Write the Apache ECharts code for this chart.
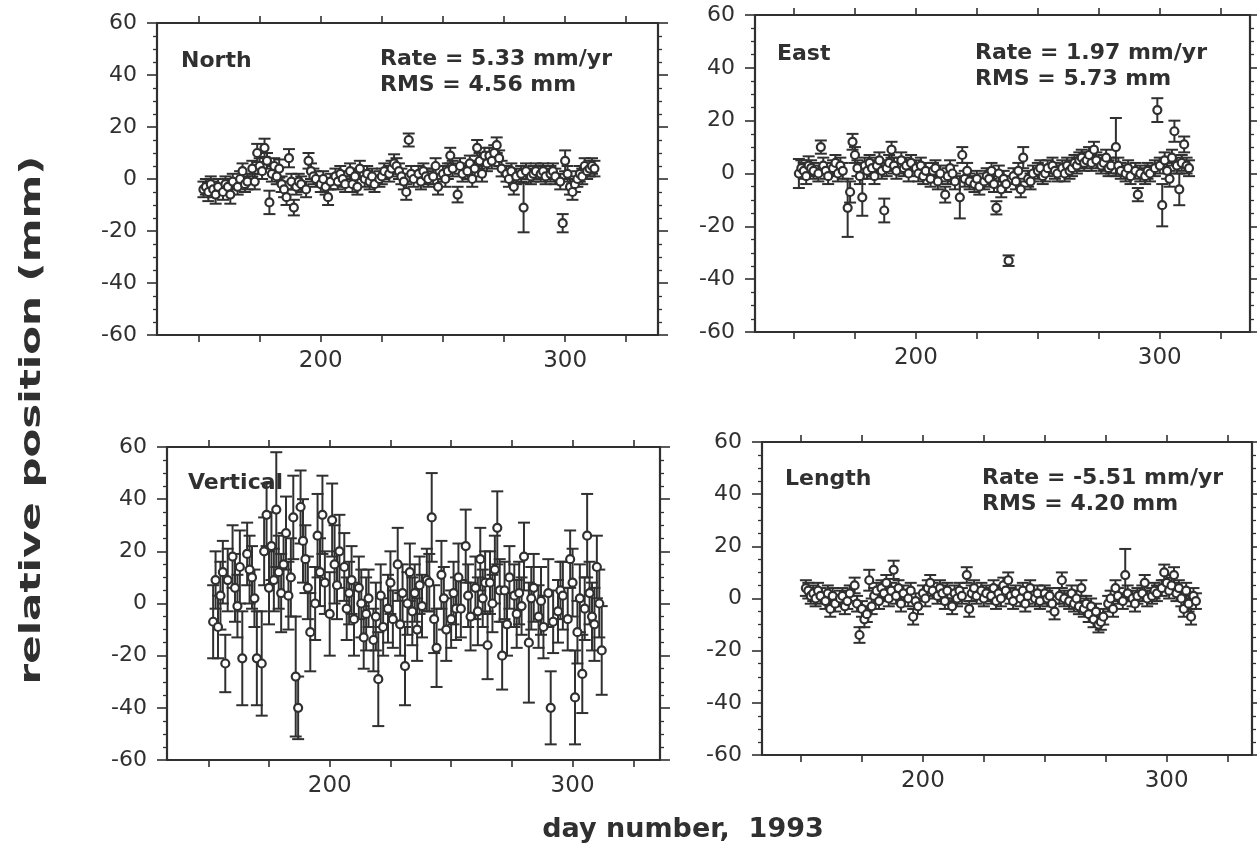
<!DOCTYPE html>
<html><head><meta charset="utf-8">
<script src="https://cdn.jsdelivr.net/npm/echarts@6/dist/echarts.min.js"></script>
<style>html,body{margin:0;padding:0;background:#fff}#c{width:1257px;height:856px}</style>
</head><body><div id="c"></div>
<script>
// ---------------- data ----------------
const days = [152,153,154,155,156,157,158,
160,161,162,163,164,
166,167,168,169,170,
172,173,174,175,176,177,178,179,180,181,182,183,184,185,186,187,188,189,190,191,192,
194,195,196,197,198,
200,201,202,203,204,
206,207,208,209,210,
212,213,214,215,216,
218,219,220,221,222,
224,225,226,
228,229,230,231,232,233,234,235,236,237,238,
240,241,242,243,244,
246,247,248,
250,251,252,253,254,
256,257,258,
260,261,262,263,264,265,266,267,268,269,270,271,272,273,274,
276,277,278,279,280,
282,283,284,
286,287,288,
290,291,292,
294,295,296,
298,299,300,301,302,303,304,305,306,307,308,309,310,311,312];

const northVals = [-4,-3,-5,-2,-4,-6,-3,
-5,-2,-3,-6,-1,
-3,0,3,-2,-1,
4,-1,10,5,3,12,7,-9,2,5,1,4,-2,-4,-7,8,-1,-11,-3,-1,-2,
-4,7,3,1,0,
-2,0,-3,-7,-1,
1,-1,2,0,-2,
3,-2,1,-3,4,
0,2,-1,1,-2,
0,1,3,
2,4,6,5,3,1,-1,-5,15,2,0,
2,-1,3,1,0,
1,5,-3,
2,0,3,9,4,
-6,5,2,
3,6,0,4,12,7,2,9,6,9,7,10,13,8,4,
2,0,3,-3,1,
2,-11,3,
1,2,3,
2,3,1,
2,3,1,
-1,-17,7,2,-3,-5,-2,0,2,1,5,3,4,5,4];
const northErrs = [3,3,3.5,3,3,3.5,3,
3,3,3,3.5,3,
3,3,3,3,3,
3,3,3.5,3,3,3.5,3,4.5,3,3,3,3.5,3,3,3,3.5,3,3,3,3,3,
3,3,3,3,3,
3,3,3,3,3,
3,3,3,3,3,
3,3,3,3,3,
3,3,3,3,3,
3,3,3,
3,3,3.5,3,3,3,3,3,2.5,3,3,
3,3,3,3,3,
3,3,3,
3,3,3,3,3,
3,3,3,
3,3,3,3,3,3,3,3,3,3,3,3,3,3,3,
3,3,3,3,3,
3,9.5,3,
3,3,3,
3,3,3,
3,3,3,
3,3.5,4,3,3,3,3,3,3,3,3,3,3,3,3];

const eastVals = [0,2,1,-1,3,2,1,
0,10,3,1,-1,
2,4,0,3,1,
-13,-7,12,7,2,-1,-9,3,1,4,2,-1,3,5,1,-14,2,4,9,3,1,
5,2,3,0,4,
2,0,3,-1,1,
-2,1,2,-3,0,
-8,-1,2,0,-3,
-9,7,-2,1,-3,
-4,-2,-5,
-3,-1,-2,1,-4,-13,0,-6,-2,-4,-33,
-1,-3,1,-6,6,
-2,-3,0,
1,2,-1,0,2,
3,1,0,
2,0,3,1,2,4,3,5,6,4,5,7,4,9,5,
3,4,6,2,3,
10,3,1,
0,2,-1,
1,-8,0,
-1,1,0,
2,24,3,-12,5,1,-2,6,16,3,-6,4,11,3,2];
const eastErrs = [5.5,3,3,3,3.5,3,3,
3,2.5,3,3,3,
3,3,3,3,3,
11,4,3,3,3,3,7,3,3,3,3,3,3,3,3,4.5,3,3,3,3,3,
3,3,3,3,3,
3,3,3,3,3,
3,3,3,3,3,
3,3,3,3,3,
8,3,3,3,3,
3,3,3,
3,3,3,3,3,2.5,3,3,3,3,2,
3,3,3,3,4,
3,3,3,
3,3,3,3,3,
3,3,3,
3,3,3,3,3,3,3,3,3,3,3,3,3,3,3,
3,3,3,3,3,
11,3,3,
3,3,3,
3,2.5,3,
3,3,3,
3,4.5,3,8,3,3,3,3,4,3,6,3,3,3,3];

const vertVals = [-7,9,-9,3,12,-23,9,
18,6,-1,14,-21,
19,13,10,2,-21,
-23,20,34,6,22,9,36,12,4,15,27,3,10,33,-28,-40,37,24,17,6,-11,
0,26,12,34,8,
-4,32,15,7,20,
14,-2,4,9,-6,
6,0,-13,-4,2,
-14,-5,-29,3,-9,
-2,8,-6,
15,-8,4,-24,0,12,-3,4,-10,7,-1,
9,8,33,-6,-17,
11,2,-10,
-6,4,-2,10,-2,
22,3,-5,
6,-3,17,2,8,-16,8,0,13,29,5,-20,5,-8,10,
3,-4,4,-1,18,
-15,2,6,
-5,1,-9,
4,-40,-7,
-3,5,3,
-6,17,8,-36,-11,2,-27,-2,26,4,-5,-8,14,0,-18];
const vertErrs = [14,11,12,13,12,11,12,
12,13,12,14,18,
12,13,12,11,18,
20,13,12,14,13,12,22,14,15,12,14,13,15,16,23,12,14,16,13,12,15,
14,16,13,15,12,
16,14,15,13,14,
13,12,12,13,14,
12,13,12,14,11,
12,13,18,12,11,
13,12,11,
14,12,11,15,12,11,13,11,12,11,12,
12,11,17,13,15,
13,12,12,
11,12,12,13,11,
14,12,13,
12,13,12,11,12,13,12,11,13,14,12,13,11,12,12,
12,13,12,11,13,
23,12,13,
12,13,12,
13,14,12,
12,11,13,
12,11,13,18,12,13,15,12,16,12,13,14,12,13,17];

const lengthVals = [4,3,1,2,0,3,1,
-1,2,-4,1,-2,
0,1,-3,-1,2,
5,-2,-14,-4,-8,-6,7,-3,1,3,-1,4,2,6,0,3,11,1,4,-2,2,
0,3,-7,-1,-3,
2,0,4,6,3,
1,4,2,-1,3,
-3,2,0,3,1,
9,-4,2,4,1,
3,0,2,
1,4,-1,2,0,5,3,7,1,-1,2,
0,3,-2,1,4,
0,2,-1,
2,0,1,-2,-5,
1,7,0,
-1,2,-2,0,-3,4,-4,-2,-6,-3,-8,-5,-10,-9,-7,
-2,0,-4,4,1,
-1,9,2,
0,-2,1,
2,6,0,
1,3,2,
4,10,6,3,5,9,2,4,0,-4,3,-2,-7,1,-1];
const lengthErrs = [3,3,3,3,3,3,3,
3,3,3,3,3,
3,3,3,3,3,
3,3,3,3,3,3,4,3,3,3,3,3,3,3,3,3,3.5,3,3,3,3,
3,3,3,3,3,
3,3,3,3,3,
3,3,3,3,3,
3,3,3,3,3,
3,3,3,3,3,
3,3,3,
3,3,3,3,3,3,3,3,3,3,3,
3,3,3,3,3,
3,3,3,
3,3,3,3,3,
3,3,3,
3,3,3,3,3,3,3,3,3,3,3,3,3,3,3,
3,3,3,3,3,
3,10,3,
3,3,3,
3,3,3,
3,3,3,
3,3,3,3,3,3,3,3,3,3,3,3,3,3,3];

const panelNames = ['North', 'East', 'Vertical', 'Length'];
const rateTexts = ['Rate = 5.33 mm/yr', 'Rate = 1.97 mm/yr', '', 'Rate = -5.51 mm/yr'];
const rmsTexts = ['RMS = 4.56 mm', 'RMS = 5.73 mm', '', 'RMS = 4.20 mm'];
const xTickDays = [150, 175, 200, 225, 250, 275, 300, 325];
const xLabelDays = [200, 300];
const xTitle = 'day number,  1993';
const yTitle = 'relative position (mm)';

// ---------------- layout / style ----------------
const C = '#303030';
const FONT = '"DejaVu Sans", "Liberation Sans", sans-serif';
const layout = [
  {left:157, top:23, width:501, height:312, xMin:133, xMax:338, nameXY:[181,61], rateXY:[380,59], rmsXY:[380,85]},
  {left:755, top:15, width:495, height:317, xMin:134, xMax:337, nameXY:[777,54], rateXY:[975,53], rmsXY:[975,79]},
  {left:167, top:447, width:493, height:313, xMin:133, xMax:336, nameXY:[188,483]},
  {left:762, top:442, width:490, height:313, xMin:134, xMax:335, nameXY:[785,479], rateXY:[982,478], rmsXY:[982,504]}
];
const seriesVals = [northVals, eastVals, vertVals, lengthVals];
const seriesErrs = [northErrs, eastErrs, vertErrs, lengthErrs];

const grid = [], xAxis = [], yAxis = [], series = [], graphic = [];
layout.forEach((l, i) => {
  grid.push({left:l.left, top:l.top, width:l.width, height:l.height});
  const lineStyle = {color:C, width:2.2};
  ['bottom','top'].forEach(pos => {
    xAxis.push({
      gridIndex:i, type:'value', min:l.xMin, max:l.xMax, position:pos,
      axisLine:{show:true, onZero:false, lineStyle},
      axisTick:{show:true, inside:false, customValues:xTickDays, length:7, lineStyle:{color:C, width:1.6}},
      axisLabel:{show: pos === 'bottom', customValues:xLabelDays, color:C, fontFamily:FONT, fontSize:23, margin:15},
      splitLine:{show:false}
    });
  });
  ['left','right'].forEach(pos => {
    yAxis.push({
      gridIndex:i, type:'value', min:-60, max:60, interval:20, position:pos,
      axisLine:{show:true, onZero:false, lineStyle},
      axisTick:{show:true, inside:false, length:10, lineStyle:{color:C, width:1.6}},
      minorTick:{show:true, splitNumber:4, length:4, lineStyle:{color:C, width:1.3}},
      axisLabel:{show: pos === 'left', color:C, fontFamily:FONT, fontSize:22, margin:20},
      splitLine:{show:false}, minorSplitLine:{show:false}
    });
  });
  const vals = seriesVals[i], errs = seriesErrs[i];
  series.push({
    type:'custom', xAxisIndex:2*i, yAxisIndex:2*i, silent:true, z:2,
    data: days.map((d, k) => [d, vals[k], errs[k]]),
    renderItem: function (params, api) {
      const x = api.value(0), y = api.value(1), e = api.value(2);
      const t = api.coord([x, y + e]), b = api.coord([x, y - e]);
      const hw = 6, st = {stroke:C, lineWidth:2};
      return {type:'group', children:[
        {type:'line', shape:{x1:t[0], y1:t[1], x2:b[0], y2:b[1]}, style:st},
        {type:'line', shape:{x1:t[0]-hw, y1:t[1], x2:t[0]+hw, y2:t[1]}, style:st},
        {type:'line', shape:{x1:b[0]-hw, y1:b[1], x2:b[0]+hw, y2:b[1]}, style:st}
      ]};
    }
  });
  series.push({
    type:'scatter', xAxisIndex:2*i, yAxisIndex:2*i, silent:true, z:3,
    symbol:'circle', symbolSize:8,
    itemStyle:{color:'#fff', borderColor:C, borderWidth:2.2, opacity:1},
    data: days.map((d, k) => [d, vals[k]])
  });
  graphic.push({type:'text', x:l.nameXY[0], y:l.nameXY[1],
    style:{text:panelNames[i], font:'bold 22px ' + FONT, fill:C, align:'left', verticalAlign:'middle'}});
  if (rateTexts[i]) {
    graphic.push({type:'text', x:l.rateXY[0], y:l.rateXY[1],
      style:{text:rateTexts[i], font:'bold 22px ' + FONT, fill:C, align:'left', verticalAlign:'middle'}});
    graphic.push({type:'text', x:l.rmsXY[0], y:l.rmsXY[1],
      style:{text:rmsTexts[i], font:'bold 22px ' + FONT, fill:C, align:'left', verticalAlign:'middle'}});
  }
});
graphic.push({type:'text', x:683, y:830,
  style:{text:xTitle, font:'bold 27px ' + FONT, fill:C, align:'center', verticalAlign:'middle'}});
graphic.push({type:'text', x:33, y:420, rotation:Math.PI/2, scaleX:1.5,
  style:{text:yTitle, font:'bold 28px ' + FONT, fill:C, align:'center', verticalAlign:'middle'}});

const chart = echarts.init(document.getElementById('c'), null, {renderer:'canvas'});
chart.setOption({animation:false, backgroundColor:'#fff', grid, xAxis, yAxis, series, graphic});
</script>
</body></html>
